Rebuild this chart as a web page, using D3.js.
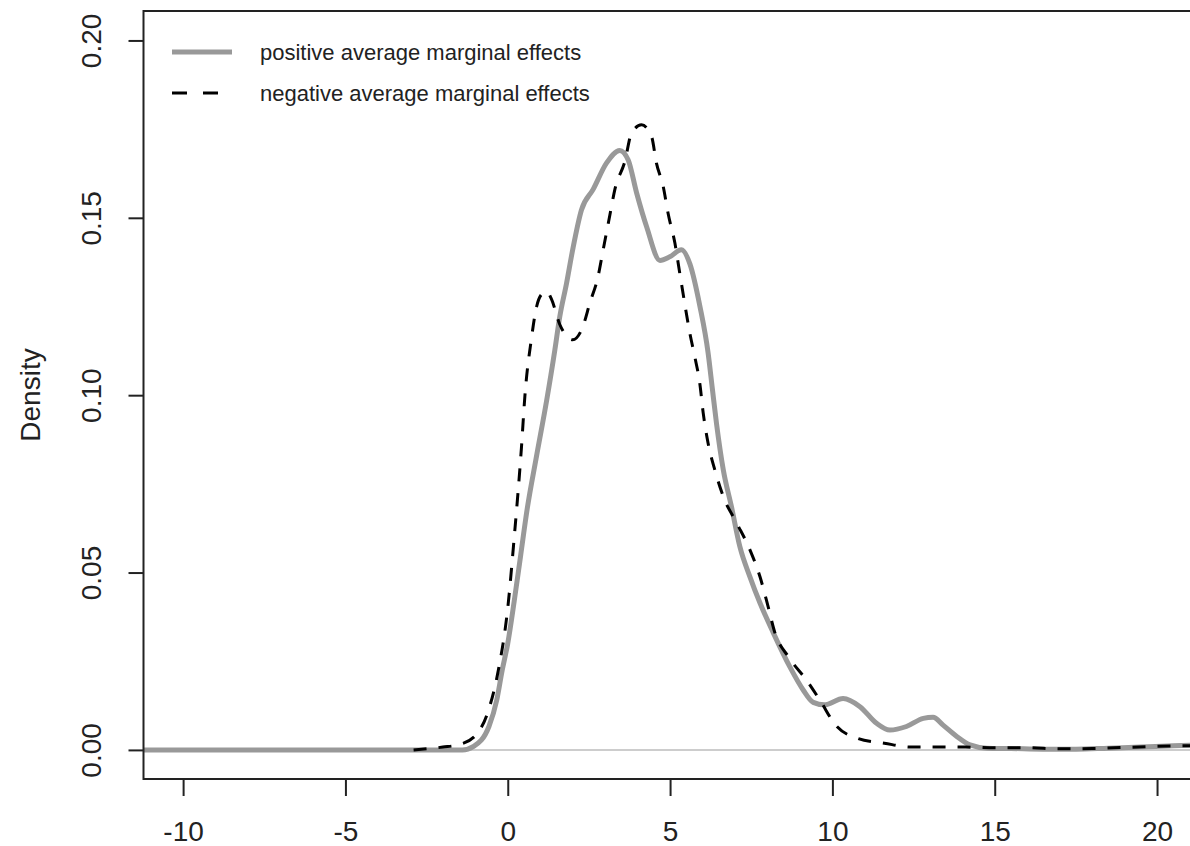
<!DOCTYPE html>
<html>
<head>
<meta charset="utf-8">
<script src="https://d3js.org/d3.v7.min.js"></script>
<style>
  body { margin: 0; background: #fff; }
  svg text { font-family: "Liberation Sans", Arial, sans-serif; fill: #222; }
</style>
</head>
<body>
<div class="chart"></div>
<script>
// density estimates
var posX = [-11.3, -1.4, -1.05, -0.58, -0.34, -0.17, 0, 0.2, 0.4, 0.6, 0.89, 1.2, 1.45, 1.6, 1.81, 2.0,
  2.27, 2.63, 3.04, 3.45, 3.71, 3.97, 4.28, 4.69, 4.99, 5.35, 5.61, 5.92, 6.17, 6.3, 6.43, 6.64, 6.89,
  7.15, 7.46, 7.77, 8.18, 8.69, 9.1, 9.41, 9.75, 10.33, 10.85, 11.36, 11.77, 12.28, 12.8, 13.1, 13.41,
  13.83, 14.24, 14.75, 15.5, 16.5, 17.5, 18.5, 19.5, 20.5, 21.3];
var posY = [0, 0, 0.001, 0.0066, 0.014, 0.0225, 0.03, 0.042, 0.055, 0.068, 0.083, 0.0986, 0.1127, 0.122, 0.1315, 0.141,
  0.1522, 0.158, 0.1654, 0.169, 0.1663, 0.157, 0.1474, 0.138, 0.139, 0.141, 0.137, 0.125, 0.112, 0.102, 0.092, 0.0789, 0.0686,
  0.0573, 0.0488, 0.0414, 0.033, 0.0234, 0.0169, 0.0134, 0.0127, 0.0145, 0.0122, 0.0075, 0.0056, 0.0066, 0.0089, 0.0092, 0.007,
  0.0038, 0.0014, 0.0005, 0.0004, 0.0002, 0.0002, 0.0005, 0.0008, 0.0012, 0.0014];

var negX = [-2.9, -2.0, -1.5, -1.0, -0.6, -0.3, 0, 0.2, 0.42, 0.53, 0.73, 0.89, 1.05, 1.2, 1.35, 1.6, 2.0,
  2.3, 2.53, 2.78, 2.94, 3.15, 3.3, 3.61, 3.81, 4.12, 4.43, 4.58, 4.79, 4.94, 5.15, 5.3, 5.45, 5.61,
  5.76, 5.92, 6.02, 6.17, 6.38, 6.64, 7.05, 7.46, 7.77, 8.02, 8.23, 8.64, 9.2, 9.61, 10.1, 10.8, 11.6,
  12.4, 13.2, 14.1, 15, 16, 17, 18, 19, 20, 21.3];
var negY = [0, 0.0008, 0.0015, 0.004, 0.011, 0.022, 0.04, 0.06, 0.085, 0.1, 0.116, 0.125, 0.1285, 0.1292, 0.127, 0.12, 0.1156,
  0.119, 0.126, 0.1334, 0.141, 0.151, 0.158, 0.166, 0.1738, 0.1762, 0.1729, 0.1654, 0.1588, 0.1512, 0.1428, 0.1343, 0.1259, 0.1174,
  0.1109, 0.103, 0.095, 0.0865, 0.0789, 0.0714, 0.064, 0.0564, 0.0488, 0.0404, 0.033, 0.0263, 0.0197, 0.0141, 0.007, 0.0032, 0.0019,
  0.0008, 0.0008, 0.0008, 0.0006, 0.0006, 0.0003, 0.0004, 0.0007, 0.001, 0.0012];

var xTicks = [-10, -5, 0, 5, 10, 15, 20];
var yTicks = [0, 0.05, 0.10, 0.15, 0.20];
var legendLabels = ["positive average marginal effects", "negative average marginal effects"];

var fullWidth = 1190;
var fullHeight = 846;
var box = { left: 143.5, top: 11, right: 1196, bottom: 779 };

var svg = d3
  .select(".chart")
  .append("svg")
  .attr("width", fullWidth)
  .attr("height", fullHeight);

var xScale = d3.scaleLinear().domain([-11.22, 21.2]).range([box.left, box.right]);
var yScale = d3.scaleLinear().domain([-0.0082, 0.2083]).range([box.bottom, box.top]);

svg.append("clipPath").attr("id", "plotclip")
  .append("rect")
  .attr("x", box.left).attr("y", box.top)
  .attr("width", box.right - box.left).attr("height", box.bottom - box.top);

var plot = svg.append("g").attr("clip-path", "url(#plotclip)");

// zero reference line
plot.append("line")
  .attr("x1", box.left).attr("x2", box.right)
  .attr("y1", yScale(0)).attr("y2", yScale(0))
  .attr("stroke", "#bdbdbd").attr("stroke-width", 1.5);

var line = d3.line()
  .x(d => xScale(d[0]))
  .y(d => yScale(d[1]))
  .curve(d3.curveMonotoneX);

plot.append("path")
  .datum(d3.zip(posX, posY))
  .attr("d", line)
  .attr("fill", "none")
  .attr("stroke", "#999999")
  .attr("stroke-width", 5)
  .attr("stroke-linejoin", "round");

plot.append("path")
  .datum(d3.zip(negX, negY))
  .attr("d", line)
  .attr("fill", "none")
  .attr("stroke", "#000")
  .attr("stroke-width", 3)
  .attr("stroke-dasharray", "13,12");

// axes (R style: plain hyphen for negatives)
var xAxis = svg.append("g")
  .attr("transform", `translate(0, ${box.bottom})`)
  .call(d3.axisBottom(xScale).tickValues(xTicks).tickSize(17).tickFormat(d => String(d)));
xAxis.select(".domain").remove();
xAxis.selectAll("line").attr("stroke", "#222").attr("stroke-width", 2);
xAxis.selectAll("text")
  .attr("y", 62).attr("dy", 0)
  .style("font-size", "28px")
  .style("font-family", "'Liberation Sans', Arial, sans-serif")
  .attr("fill", "#222");

var yAxis = svg.append("g")
  .attr("transform", `translate(${box.left}, 0)`)
  .call(d3.axisLeft(yScale).tickValues(yTicks).tickSize(15).tickFormat(d3.format(".2f")));
yAxis.select(".domain").remove();
yAxis.selectAll("line").attr("stroke", "#222").attr("stroke-width", 2);
yAxis.selectAll("text")
  .attr("transform", "rotate(-90)")
  .attr("x", 0).attr("y", -43).attr("dy", 0)
  .attr("text-anchor", "middle")
  .style("font-size", "28px")
  .style("font-family", "'Liberation Sans', Arial, sans-serif")
  .attr("fill", "#222");

svg.append("rect")
  .attr("x", box.left).attr("y", box.top)
  .attr("width", box.right - box.left).attr("height", box.bottom - box.top)
  .attr("fill", "none").attr("stroke", "#222").attr("stroke-width", 2);

svg.append("text")
  .attr("transform", `translate(40, ${(box.top + box.bottom) / 2}) rotate(-90)`)
  .attr("text-anchor", "middle")
  .style("font-size", "28px")
  .text("Density");

// legend
var legend = svg.append("g");
legend.append("line")
  .attr("x1", 172).attr("x2", 232).attr("y1", 52).attr("y2", 52)
  .attr("stroke", "#999999").attr("stroke-width", 5);
legend.append("line")
  .attr("x1", 172).attr("x2", 218).attr("y1", 93).attr("y2", 93)
  .attr("stroke", "#000").attr("stroke-width", 3).attr("stroke-dasharray", "15,16");
legend.selectAll("text.lab")
  .data(legendLabels)
  .enter()
  .append("text")
  .attr("class", "lab")
  .attr("x", 260)
  .attr("y", (d, i) => 60 + i * 41)
  .style("font-size", "22px")
  .text(d => d);
</script>
</body>
</html>
